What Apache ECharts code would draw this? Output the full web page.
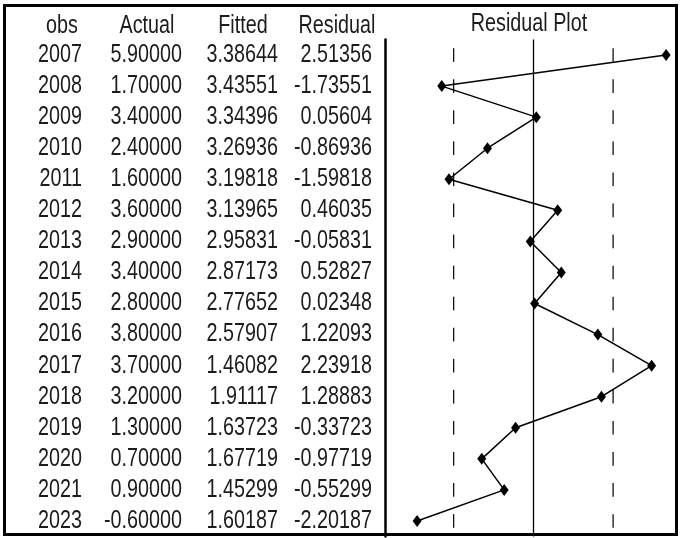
<!DOCTYPE html>
<html>
<head>
<meta charset="utf-8">
<title>Residual Plot</title>
<script src="https://cdn.jsdelivr.net/npm/echarts@6/dist/echarts.min.js"></script>
<style>
  html, body { margin: 0; padding: 0; background: #ffffff; }
  #chart { width: 681px; height: 538px; }
</style>
</head>
<body>
<div id="chart"></div>
<script>
// Observations
const years = ['2007', '2008', '2009', '2010', '2011', '2012', '2013', '2014',
               '2015', '2016', '2017', '2018', '2019', '2020', '2021', '2023'];
const actual = [5.9, 1.7, 3.4, 2.4, 1.6, 3.6, 2.9, 3.4,
                2.8, 3.8, 3.7, 3.2, 1.3, 0.7, 0.9, -0.6];
const fitted = [3.38644, 3.43551, 3.34396, 3.26936, 3.19818, 3.13965, 2.95831, 2.87173,
                2.77652, 2.57907, 1.46082, 1.91117, 1.63723, 1.67719, 1.45299, 1.60187];
const residual = [2.51356, -1.73551, 0.05604, -0.86936, -1.59818, 0.46035, -0.05831, 0.52827,
                  0.02348, 1.22093, 2.23918, 1.28883, -0.33723, -0.97719, -0.55299, -2.20187];
const headers = ['obs', 'Actual', 'Fitted', 'Residual'];
// Standard error of the regression, drawn as the dashed bands
const seBand = 1.51;

// Narrow sans look: Liberation Sans squeezed horizontally
const FONT = "'Liberation Sans', Arial, sans-serif";
const INK = '#1c1c1c';
const TEXT_SIZE = 25;
const SQUEEZE = 0.79;

// Table layout: right edge of each cell column, centre of each header
const cellRight = [82, 182, 278, 372];
const headerCenters = [62, 147, 243, 337];

const chart = echarts.init(document.getElementById('chart'), null, { renderer: 'canvas' });

const fmt = v => v.toFixed(5);

function narrowText(x, y, text, align) {
  return {
    type: 'text',
    x: x,
    y: y,
    scaleX: SQUEEZE,
    style: {
      text: text,
      fill: INK,
      font: TEXT_SIZE + 'px ' + FONT,
      textAlign: align,
      textVerticalAlign: 'middle'
    }
  };
}

chart.setOption({
  backgroundColor: '#ffffff',
  animation: false,
  grid: { left: 385, top: 39.5, width: 292, height: 497, containLabel: false },
  xAxis: {
    type: 'value',
    min: -2.81,
    max: 2.72,
    show: false
  },
  yAxis: {
    type: 'category',
    data: years,
    inverse: true,
    axisLine: { show: true, onZero: false, lineStyle: { color: '#000', width: 2.5 } },
    axisTick: { show: false },
    axisLabel: { show: false },
    splitLine: { show: false }
  },
  graphic: [
    ...headers.map((h, i) => narrowText(headerCenters[i], 26, h, 'center')),
    narrowText(529, 24, 'Residual Plot', 'center'),
    {
      type: 'rect',
      z: 100,
      shape: { x: 4.5, y: 5.5, width: 672, height: 529 },
      style: { fill: 'none', stroke: '#000', lineWidth: 3 }
    }
  ],
  series: [
    {
      // Table rows: obs / Actual / Fitted / Residual, placed on the category rows
      type: 'custom',
      data: years.map((y, i) => [0, i]),
      encode: { x: 0, y: 1 },
      silent: true,
      clip: false,
      renderItem: function (params, api) {
        const i = api.value(1);
        const rowY = api.coord([0, i])[1];
        const cells = [years[i], fmt(actual[i]), fmt(fitted[i]), fmt(residual[i])];
        return {
          type: 'group',
          children: cells.map((c, k) => narrowText(cellRight[k], rowY, c, 'right'))
        };
      }
    },
    {
      // ±1 S.E. band: short dashes on every observation row
      type: 'custom',
      data: years.map((y, i) => [0, i]),
      encode: { x: 0, y: 1 },
      silent: true,
      renderItem: function (params, api) {
        const i = api.value(1);
        const band = api.size([0, 1])[1];
        const half = band * 0.22;
        const children = [-seBand, seBand].map(s => {
          const p = api.coord([s, i]);
          return {
            type: 'line',
            shape: { x1: p[0], y1: p[1] - half, x2: p[0], y2: p[1] + half },
            style: { stroke: '#111', lineWidth: 1.3 }
          };
        });
        return { type: 'group', children: children };
      }
    },
    {
      type: 'line',
      data: residual.map((r, i) => [r, years[i]]),
      symbol: 'diamond',
      symbolSize: [9, 12],
      itemStyle: { color: '#000' },
      lineStyle: { color: '#000', width: 1.5 },
      z: 5,
      markLine: {
        silent: true,
        symbol: 'none',
        label: { show: false },
        lineStyle: { color: '#000', width: 1.3, type: 'solid' },
        data: [{ xAxis: 0 }]
      }
    }
  ]
});
</script>
</body>
</html>
